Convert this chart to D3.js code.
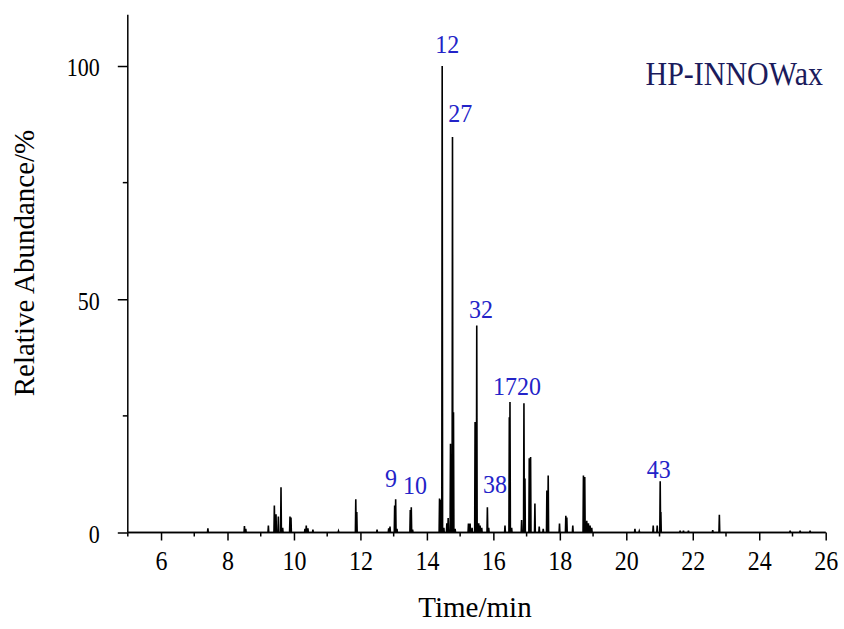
<!DOCTYPE html>
<html>
<head>
<meta charset="utf-8">
<script src="https://cdn.jsdelivr.net/npm/d3@7"></script>
<style>
  html, body { margin: 0; padding: 0; background: #fff; }
  svg { display: block; }
  svg text { font-family: "Liberation Serif", "Times New Roman", serif !important; }
</style>
</head>
<body>
<svg id="chart" width="844" height="629"></svg>
<script>
// ---- data ----
const peakTimes = [
  7.41, 8.51, 8.55, 9.23, 9.41, 9.46, 9.53, 9.61, 9.66, 9.88, 9.91,
  10.33, 10.37, 10.42, 10.57, 11.34, 11.86, 11.89, 12.50, 12.85, 12.89,
  13.03, 13.06, 13.10, 13.50, 13.53, 13.57,
  14.38, 14.42, 14.46, 14.51, 14.60, 14.64, 14.71, 14.77, 14.80, 14.85,
  15.25, 15.30, 15.36, 15.45, 15.50, 15.56, 15.60, 15.65, 15.82, 15.86,
  16.35, 16.48, 16.50, 16.55, 16.85, 16.92, 16.95, 17.08, 17.12, 17.25,
  17.38, 17.50, 17.61, 17.65, 17.99, 18.18, 18.21, 18.39,
  18.71, 18.75, 18.81, 18.86, 18.91, 18.96,
  20.26, 20.39, 20.81, 20.93, 21.02, 21.04, 21.62, 21.72, 21.87,
  22.60, 22.80, 24.93, 25.23, 25.53
];
const peakHeights = [
  0.9, 1.4, 0.8, 1.5, 5.8, 3.9, 3.4, 9.7, 1.0, 3.4, 3.2,
  0.8, 1.5, 0.9, 0.6, 0.3, 7.1, 4.4, 0.6, 0.9, 1.3,
  5.8, 7.1, 0.8, 4.8, 5.4, 0.6,
  7.3, 7.0, 100, 1.0, 2.0, 3.1, 19, 84.8, 25.8, 0.8,
  1.9, 1.9, 1.0, 23.7, 44.4, 2.0, 1.5, 1.0, 5.4, 1.0,
  1.5, 24.7, 28, 1.0, 2.7, 27.7, 11.6, 15.9, 16.2, 6.2,
  1.3, 0.8, 9.0, 12.2, 1.9, 3.6, 3.2, 1.5,
  12.2, 11.9, 2.5, 2.0, 1.5, 1.0,
  0.8, 0.3, 1.5, 1.5, 11.0, 4.4, 0.4, 0.4, 0.4,
  0.5, 3.8, 0.4, 0.4, 0.4
];
const labelTexts  = ["12", "27", "32", "1720", "38", "9", "10", "43"];
const labelTimes  = [14.61, 15.00, 15.63, 16.71, 16.05, 12.92, 13.64, 20.98];
const labelValues = [102.8, 88.0, 46.0, 29.5, 8.5, 9.75, 8.25, 11.7];
const xMajorTicks = [6, 8, 10, 12, 14, 16, 18, 20, 22, 24, 26];
const xMinorTicks = [5, 7, 9, 11, 13, 15, 17, 19, 21, 23, 25];
const yMajorTicks = [0, 50, 100];
const yMinorTicks = [25, 75];
const xDomain = [5, 26];
const yDomain = [0, 111];
const columnName = "HP-INNOWax";
const xTitle = "Time/min";
const yTitle = "Relative Abundance/%";

// ---- drawing ----
const serif = '"Liberation Serif", "Times New Roman", serif';
const svg = d3.select("#chart");
const x = d3.scaleLinear().domain(xDomain).range([127.8, 825.7]);
const y = d3.scaleLinear().domain(yDomain).range([532.5, 14.7]);

// chromatogram trace: narrow spike for each peak apex
const halfWidth = 0.012;
const order = d3.range(peakTimes.length).sort((a, b) => peakTimes[a] - peakTimes[b]);
const pts = [[xDomain[0], 0]];
order.forEach(i => {
  pts.push([peakTimes[i] - halfWidth, 0]);
  pts.push([peakTimes[i], peakHeights[i]]);
  pts.push([peakTimes[i] + halfWidth, 0]);
});
pts.push([xDomain[1], 0]);

const line = d3.line().x(d => x(d[0])).y(d => y(d[1]));
svg.append("path")
  .attr("d", line(pts))
  .attr("fill", "none")
  .attr("stroke", "#000")
  .attr("stroke-width", 1.6)
  .attr("stroke-linejoin", "miter");

// bottom axis
const xAxisG = svg.append("g").attr("transform", `translate(0,${y(0)})`);
xAxisG.call(d3.axisBottom(x).tickValues(xMajorTicks).tickSize(8).tickPadding(9).tickFormat(d3.format("d")));
xAxisG.attr("font-family", serif);
xAxisG.selectAll(".domain").attr("d", `M${x(xDomain[0])},0H${x(xDomain[1])}`);
xAxisG.append("g").selectAll("line").data(xMinorTicks).join("line")
  .attr("x1", d => x(d)).attr("x2", d => x(d)).attr("y1", 0).attr("y2", 4)
  .attr("stroke", "#000").attr("stroke-width", 1.5);
xAxisG.selectAll(".tick text").attr("font-size", 24).style("font-family", serif)
  .attr("fill", "#000").attr("transform", "scale(1,1.1)");

// left axis
const yAxisG = svg.append("g").attr("transform", `translate(${x(xDomain[0])},0)`);
yAxisG.call(d3.axisLeft(y).tickValues(yMajorTicks).tickSize(10).tickPadding(18).tickFormat(d3.format("d")));
yAxisG.attr("font-family", serif);
yAxisG.selectAll(".domain").attr("d", `M0,${y(yDomain[0])}V${y(yDomain[1])}`);
yAxisG.append("g").selectAll("line").data(yMinorTicks).join("line")
  .attr("x1", 0).attr("x2", -5).attr("y1", d => y(d)).attr("y2", d => y(d))
  .attr("stroke", "#000").attr("stroke-width", 1.5);
yAxisG.selectAll(".tick text").attr("font-size", 22).style("font-family", serif)
  .attr("fill", "#000").attr("dy", "0.4em").attr("transform", "scale(1,1.12)");

svg.selectAll(".domain, .tick line").attr("stroke", "#000").attr("stroke-width", 1.5);

// axis titles
svg.append("text")
  .attr("x", 475).attr("y", 617)
  .attr("text-anchor", "middle")
  .attr("font-size", 29)
  .attr("fill", "#000")
  .text(xTitle);

svg.append("text")
  .attr("transform", "translate(34,263) rotate(-90)")
  .attr("text-anchor", "middle")
  .attr("font-size", 29)
  .attr("fill", "#000")
  .text(yTitle);

// column name
svg.append("text")
  .attr("transform", "translate(823,85) scale(1,1.12)")
  .attr("text-anchor", "end")
  .attr("font-size", 30)
  .attr("fill", "#1b1b5c")
  .text(columnName);

// peak labels
svg.append("g").selectAll("text").data(labelTexts).join("text")
  .attr("transform", (d, i) => `translate(${x(labelTimes[i])},${y(labelValues[i])}) scale(1,1.08)`)
  .attr("text-anchor", "middle")
  .attr("font-size", 24)
  .attr("fill", "#2323c8")
  .text(d => d);
</script>
</body>
</html>
